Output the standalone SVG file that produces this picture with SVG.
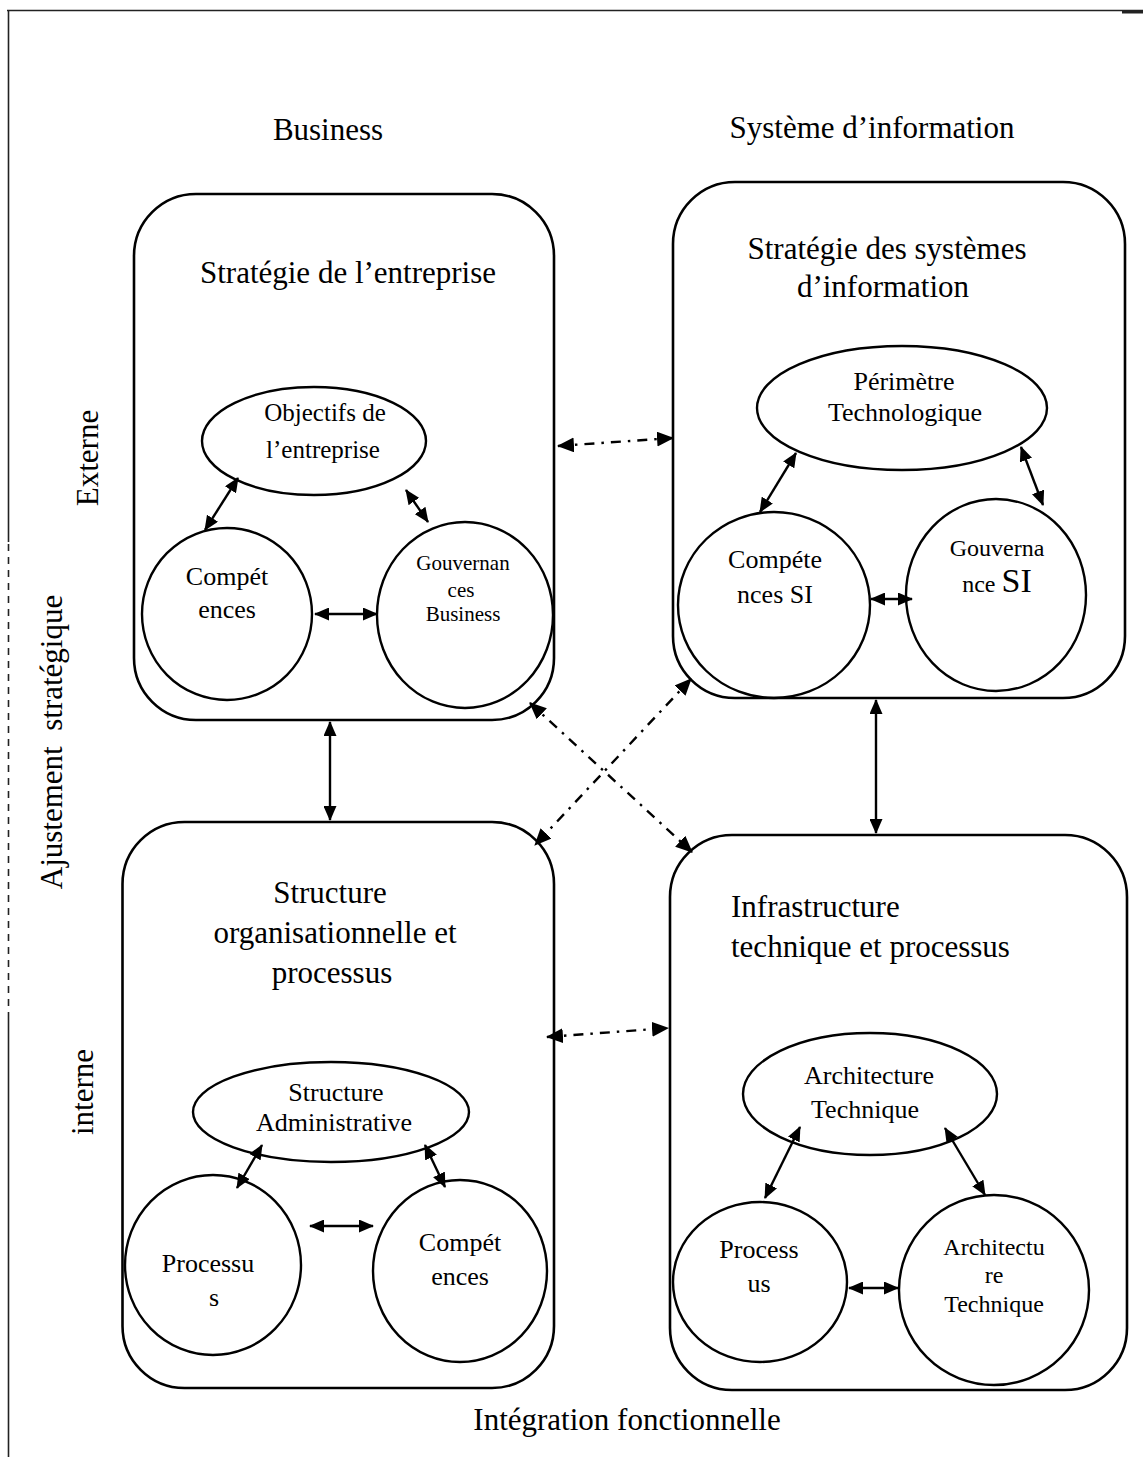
<svg xmlns="http://www.w3.org/2000/svg" width="1143" height="1457" viewBox="0 0 1143 1457">
  <style>
    text { font-family: "Liberation Serif", "Times New Roman", serif; fill: #000; }
    .head { font-size: 31px; }
    .lbl { font-size: 26px; }
    .sm { font-size: 21px; }
    .mid { text-anchor: middle; }
    .box { fill: none; stroke: #000; stroke-width: 2.6; }
    .shape { fill: none; stroke: #000; stroke-width: 2.4; }
    .link { fill: none; stroke: #000; stroke-width: 2.4; marker-start: url(#ah); marker-end: url(#ah); }
    .dd { fill: none; stroke: #000; stroke-width: 2.4; stroke-dasharray: 10 7 2.5 7; marker-start: url(#ahL); marker-end: url(#ahL); }
    .frame { fill: none; stroke: #222; stroke-width: 1.6; }
  </style>
  <defs>
    <marker id="ah" viewBox="0 0 15 13" refX="14" refY="6.5" markerWidth="15" markerHeight="13" markerUnits="userSpaceOnUse" orient="auto-start-reverse">
      <path d="M0,0 L15,6.5 L0,13 z" fill="#000"/>
    </marker>
    <marker id="ahL" viewBox="0 0 17 15" refX="16" refY="7.5" markerWidth="17" markerHeight="15" markerUnits="userSpaceOnUse" orient="auto-start-reverse">
      <path d="M0,0 L17,7.5 L0,15 z" fill="#000"/>
    </marker>
  </defs>

  <rect width="1143" height="1457" fill="#fff"/>

  <!-- page frame -->
  <g id="frame">
    <line class="frame" x1="7" y1="10.5" x2="1143" y2="10.5"/>
    <line x1="1122" y1="12" x2="1143" y2="12" stroke="#222" stroke-width="3"/>
    <line class="frame" x1="8.5" y1="10" x2="8.5" y2="542"/>
    <line class="frame" x1="8.5" y1="544" x2="8.5" y2="1012" stroke-dasharray="7 6"/>
    <line class="frame" x1="8.5" y1="1012" x2="8.5" y2="1457"/>
  </g>

  <!-- axis labels -->
  <g id="axes">
    <text class="head mid" x="328" y="140">Business</text>
    <text class="head mid" x="872" y="138">Système d’information</text>
    <text class="head mid" transform="translate(98,458) rotate(-90)">Externe</text>
    <text class="head mid" transform="translate(62,742) rotate(-90)" xml:space="preserve">Ajustement  stratégique</text>
    <text class="head mid" transform="translate(93,1092) rotate(-90)">interne</text>
    <text class="head mid" x="627" y="1430">Intégration fonctionnelle</text>
  </g>

  <!-- Stratégie de l'entreprise -->
  <g id="strategie-entreprise">
    <rect class="box" x="134" y="194" width="420" height="526" rx="62"/>
    <text class="head mid" x="348" y="283">Stratégie de l’entreprise</text>
    <ellipse class="shape" cx="314" cy="441" rx="112" ry="54"/>
    <text class="lbl mid" x="325" y="421" style="font-size:25px">Objectifs de</text>
    <text class="lbl mid" x="323" y="458" style="font-size:25px">l’entreprise</text>
    <ellipse class="shape" cx="227" cy="614" rx="85" ry="86"/>
    <text class="lbl mid" x="227" y="585">Compét</text>
    <text class="lbl mid" x="227" y="618">ences</text>
    <ellipse class="shape" cx="465" cy="615" rx="88" ry="93"/>
    <text class="sm mid" x="463" y="570">Gouvernan</text>
    <text class="sm mid" x="461" y="597">ces</text>
    <text class="sm mid" x="463" y="621">Business</text>
  </g>

  <!-- Stratégie des systèmes d'information -->
  <g id="strategie-si">
    <rect class="box" x="673" y="182" width="452" height="516" rx="62"/>
    <text class="head mid" x="887" y="259">Stratégie des systèmes</text>
    <text class="head mid" x="883" y="297">d’information</text>
    <ellipse class="shape" cx="902" cy="408" rx="145" ry="62"/>
    <text class="lbl mid" x="904" y="390">Périmètre</text>
    <text class="lbl mid" x="905" y="421">Technologique</text>
    <ellipse class="shape" cx="774" cy="605" rx="96" ry="93"/>
    <text class="lbl mid" x="775" y="568">Compéte</text>
    <text class="lbl mid" x="775" y="603">nces SI</text>
    <ellipse class="shape" cx="996" cy="595" rx="90" ry="96"/>
    <text class="lbl mid" x="997" y="556" style="font-size:24px">Gouverna</text>
    <text class="mid" x="997" y="592"><tspan style="font-size:24px">nce </tspan><tspan style="font-size:34px">SI</tspan></text>
  </g>

  <!-- Structure organisationnelle et processus -->
  <g id="structure-org">
    <rect class="box" x="122.5" y="822" width="431.5" height="566" rx="62"/>
    <text class="head mid" x="330" y="903">Structure</text>
    <text class="head mid" x="335" y="943">organisationnelle et</text>
    <text class="head mid" x="332" y="983">processus</text>
    <ellipse class="shape" cx="331" cy="1112" rx="138" ry="50"/>
    <text class="lbl mid" x="336" y="1101">Structure</text>
    <text class="lbl mid" x="334" y="1131">Administrative</text>
    <ellipse class="shape" cx="213" cy="1265" rx="88" ry="90"/>
    <text class="lbl mid" x="208" y="1272">Processu</text>
    <text class="lbl mid" x="214" y="1306">s</text>
    <ellipse class="shape" cx="460" cy="1271" rx="87" ry="91"/>
    <text class="lbl mid" x="460" y="1251">Compét</text>
    <text class="lbl mid" x="460" y="1285">ences</text>
  </g>

  <!-- Infrastructure technique et processus -->
  <g id="infrastructure">
    <rect class="box" x="670" y="835" width="457" height="555" rx="62"/>
    <text class="head" x="731" y="917">Infrastructure</text>
    <text class="head" x="731" y="957">technique et processus</text>
    <ellipse class="shape" cx="870" cy="1094" rx="127" ry="61"/>
    <text class="lbl mid" x="869" y="1084">Architecture</text>
    <text class="lbl mid" x="865" y="1118">Technique</text>
    <ellipse class="shape" cx="760" cy="1282" rx="87" ry="80"/>
    <text class="lbl mid" x="759" y="1258">Process</text>
    <text class="lbl mid" x="759" y="1292">us</text>
    <ellipse class="shape" cx="994" cy="1290" rx="95" ry="95"/>
    <text class="lbl mid" x="994" y="1255" style="font-size:24px">Architectu</text>
    <text class="lbl mid" x="994" y="1283" style="font-size:24px">re</text>
    <text class="lbl mid" x="994" y="1312" style="font-size:24px">Technique</text>
  </g>

  <!-- connectors -->
  <g id="connectors">
    <!-- inside Stratégie de l'entreprise -->
    <line class="link" x1="238" y1="478" x2="205" y2="530"/>
    <line class="link" x1="406" y1="490" x2="428" y2="522"/>
    <line class="link" x1="315" y1="614" x2="377" y2="614"/>
    <!-- inside Stratégie des SI -->
    <line class="link" x1="796" y1="453" x2="760" y2="512"/>
    <line class="link" x1="1021" y1="447" x2="1043" y2="505"/>
    <line class="link" x1="871" y1="599" x2="912" y2="599"/>
    <!-- inside Structure organisationnelle -->
    <line class="link" x1="262" y1="1145" x2="237" y2="1188"/>
    <line class="link" x1="425" y1="1145" x2="445" y2="1187"/>
    <line class="link" x1="310" y1="1226" x2="373" y2="1226"/>
    <!-- inside Infrastructure -->
    <line class="link" x1="800" y1="1127" x2="765" y2="1198"/>
    <line class="link" x1="945" y1="1128" x2="985" y2="1195"/>
    <line class="link" x1="849" y1="1288" x2="898" y2="1288"/>
    <!-- between domains -->
    <line class="link" x1="330" y1="722" x2="330" y2="820"/>
    <line class="link" x1="876" y1="700" x2="876" y2="833"/>
    <line class="dd" x1="558" y1="446" x2="673" y2="438"/>
    <line class="dd" x1="547" y1="1037" x2="668" y2="1028"/>
    <line class="dd" x1="530" y1="703" x2="692" y2="852"/>
    <line class="dd" x1="691" y1="679" x2="535" y2="845"/>
  </g>
</svg>
